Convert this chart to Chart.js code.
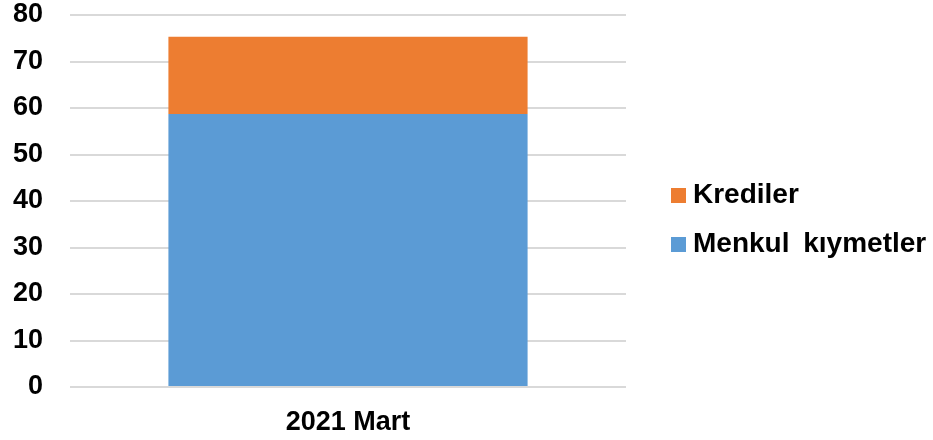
<!DOCTYPE html>
<html>
<head>
<meta charset="utf-8">
<script src="https://cdn.jsdelivr.net/npm/chart.js@4"></script>
<style>
  body { margin: 0; background: #fff; }
</style>
</head>
<body>
<canvas id="myChart" width="933" height="440"></canvas>
<script>
var categories = ['2021 Mart'];
var menkulKiymetler = [58.7];
var krediler = [16.6];
var seriesNames = ['Menkul kıymetler', 'Krediler'];
var seriesColors = ['#5B9BD5', '#ED7D31'];
var yMin = 0, yMax = 80, yStep = 10;

var fontFamily = '"Liberation Sans", Arial, sans-serif';

// legend on the right, drawn next to the plot (Krediler on top)
var sideLegend = {
    id: 'sideLegend',
    afterDraw: function(chart) {
        var ctx = chart.ctx;
        var area = chart.chartArea;
        var items = chart.data.datasets.slice().reverse();
        var rowGap = 49;
        var startY = chart.height / 2 - (items.length - 1) * rowGap / 2;
        ctx.save();
        ctx.font = 'bold 28px ' + fontFamily;
        ctx.textBaseline = 'middle';
        ctx.wordSpacing = '6px';
        items.forEach(function(ds, i) {
            var y = startY + i * rowGap;
            ctx.fillStyle = ds.backgroundColor;
            ctx.fillRect(area.right + 45, y - 7.5, 15, 15);
            ctx.fillStyle = '#000';
            ctx.fillText(ds.label, area.right + 67, y);
        });
        ctx.restore();
    }
};

var ctx = document.getElementById('myChart').getContext('2d');
var myChart = new Chart(ctx, {
    type: 'bar',
    data: {
        labels: categories,
        datasets: [{
            label: seriesNames[0],
            data: menkulKiymetler,
            backgroundColor: seriesColors[0],
            barPercentage: 0.646,
            categoryPercentage: 1
        }, {
            label: seriesNames[1],
            data: krediler,
            backgroundColor: seriesColors[1],
            barPercentage: 0.646,
            categoryPercentage: 1
        }]
    },
    options: {
        responsive: false,
        animation: false,
        layout: { padding: { right: 307 } },
        plugins: {
            legend: { display: false },
            tooltip: { enabled: false }
        },
        scales: {
            x: {
                stacked: true,
                grid: { display: false, drawTicks: false, tickLength: 0 },
                border: { display: false },
                ticks: {
                    color: '#000',
                    padding: 19,
                    font: { family: fontFamily, size: 27, weight: 'bold' }
                },
                afterFit: function(scale) { scale.height = 53; }
            },
            y: {
                stacked: true,
                min: yMin,
                max: yMax,
                border: { display: false },
                grid: { color: '#d9d9d9', lineWidth: 2, drawTicks: false, tickLength: 0 },
                ticks: {
                    stepSize: yStep,
                    color: '#000',
                    padding: 27,
                    font: { family: fontFamily, size: 27, weight: 'bold', lineHeight: 1.1 }
                },
                afterFit: function(scale) {
                    scale.width = 70;
                    scale.paddingTop = 15;
                    scale.paddingBottom = 0;
                }
            }
        }
    },
    plugins: [sideLegend]
});
</script>
</body>
</html>
